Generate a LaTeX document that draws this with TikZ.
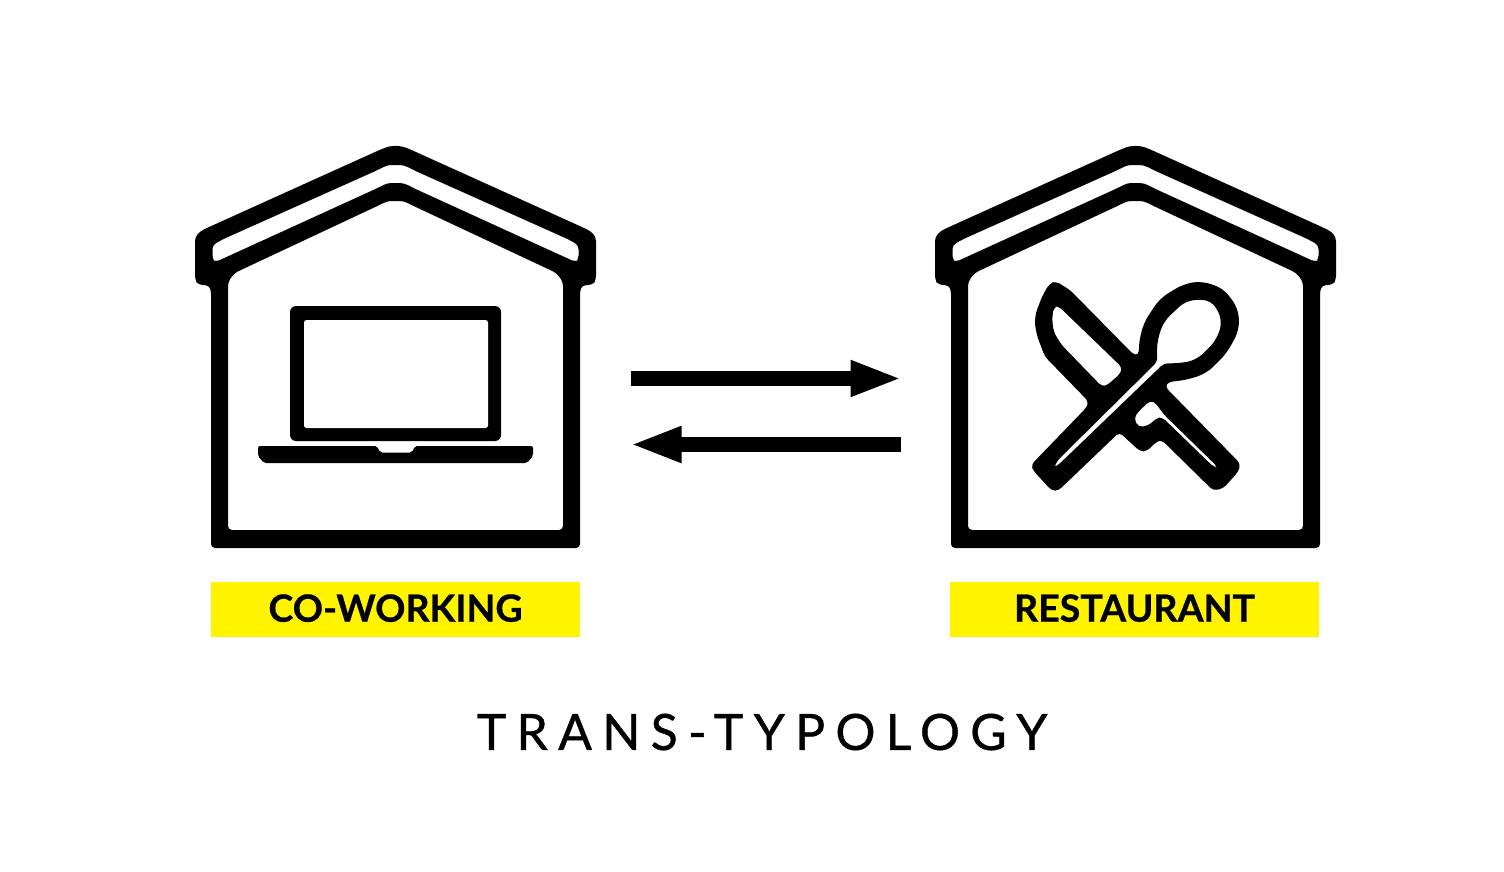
\documentclass[tikz,border=0pt]{standalone}
\usepackage{fontspec}
\setmainfont{Lato}
\newfontfamily\titlefont[LetterSpace=20.5,FakeBold=0.8]{Lato}
\newfontfamily\namefont[FakeBold=0.6]{Lato Bold}
\usetikzlibrary{arrows.meta}
\definecolor{labelyellow}{RGB}{255,243,0}
\tikzset{
    solid shape/.style={fill=black, even odd rule},
    namebox/.style={fill=labelyellow, minimum width=369pt, minimum height=55pt, inner sep=0pt, font=\fontsize{37.5}{37.5}\selectfont\namefont},
    bigarrow/.style={line width=15pt, -{Triangle[length=51.5pt,width=33pt]}},
    house/.pic={
        \fill[solid shape, rounded corners=4pt]
            % outer line
            (-6,146) -- (6,146) -- (16,150) -- (182,225) -- (195,231) -- (200.5,237) -- (200.5,280) -- (197,285) -- (187,285) -- (184.5,290) -- (184.5,548) -- (-184.5,548) -- (-184.5,290) -- (-187,285) -- (-197,285) -- (-200.5,280) -- (-200.5,237) -- (-195,231) -- (-182,225) -- (-16,150) -- cycle
            % inner line
            (-8,201) -- (8,201) -- (16,205) -- (161,273) -- (167.5,282) -- (167.5,530) -- (-167.5,530) -- (-167.5,282) -- (-161,273) -- (-16,205) -- cycle
            % slot under the roof
            (-8,165) -- (8,165) -- (20,171) -- (172,239) -- (183,245) -- (183,260) -- (180,262) -- (20,189) -- (8,183) -- (-8,183) -- (-20,189) -- (-180,262) -- (-183,260) -- (-183,245) -- (-172,239) -- (-20,171) -- cycle;
    }
}
\begin{document}
\begin{tikzpicture}[x=1pt,y=-1pt]
    \useasboundingbox (0,0) rectangle (1504,872);

    % the two houses
    \pic at (395.5,0) {house};
    \pic at (1135.5,0) {house};

    % the laptop
    \fill[solid shape, rounded corners=6pt] (290,306) rectangle (501,441);
    \fill[white, rounded corners=2.5pt] (304,320) rectangle (488,428);
    \fill[rounded corners=2pt]
        (258,446) -- (377,446) -- (380,452.5) -- (412,452.5) -- (415,446) -- (533,446) -- (533,456) -- (527,463) -- (264,463) -- (258,456) -- cycle;

    % the knife and the spoon
    \begin{scope}[shift={(930,260)}, x=0.3333pt, y=-0.3333pt]
        \fill[solid shape, rounded corners=4pt]
            (378,64) -- (420,90) -- (612,285) -- (626,285) -- (628,245) [rounded corners=9pt] -- (640,190) -- (690,115) -- (760,72) -- (815,63) -- (880,85) -- (925,145) -- (928,210) -- (890,280) -- (830,340) -- (770,360) [rounded corners=4pt] -- (715,366) -- (705,380) -- (932,612) -- (925,635) -- (880,685) -- (850,692) -- (695,540) -- (680,545) -- (650,574) -- (630,574) -- (568,517) -- (385,692) -- (365,692) -- (310,632) -- (303,615) -- (470,442) -- (476,425) -- (345,290) [rounded corners=8pt] -- (318,220) -- (313,170) -- (340,100) [rounded corners=4pt] -- (360,70) -- cycle
            % blade
            (385,138) -- (576,322) -- (572,340) -- (530,377) -- (515,379) -- (395,255) [rounded corners=6pt] -- (370,215) -- (366,165) [rounded corners=4pt] -- (373,140) -- cycle
            % bowl and handle slit
            [rounded corners=9pt] (770,120) -- (845,120) -- (878,180) -- (860,240) -- (800,300) -- (750,310) [rounded corners=4pt] -- (702,310) -- (388,612) -- (371,624) -- (384,600) -- (682,305) [rounded corners=9pt] -- (680,250) -- (700,185) -- cycle
            % fork opening
            [rounded corners=4pt] (660,422) -- (674,426) -- (704,466) -- (864,622) -- (852,622) -- (697,472) -- (680,474) -- (655,497) -- (625,501) -- (612,475) -- (625,455) -- cycle;
    \end{scope}

    % the arrows
    \coordinate (cowork r) at (631,378.5);
    \coordinate (rest l) at (902,378.5);
    \coordinate (rest r) at (901,444.5);
    \coordinate (cowork l) at (630,444.5);
    \draw[bigarrow] (cowork r) -- (rest l);
    \draw[bigarrow] (rest r) -- (cowork l);

    % the texts
    \node[namebox] (cowork) at (395.5,609.5) {\raisebox{3pt}{CO-WORKING}};
    \node[namebox] (rest) at (1134.5,609.5) {\raisebox{3pt}{RESTAURANT}};
    \node[font=\fontsize{50}{50}\selectfont\titlefont] (title) at (762,732) {TRANS-TYPOLOGY};
\end{tikzpicture}
\end{document}
